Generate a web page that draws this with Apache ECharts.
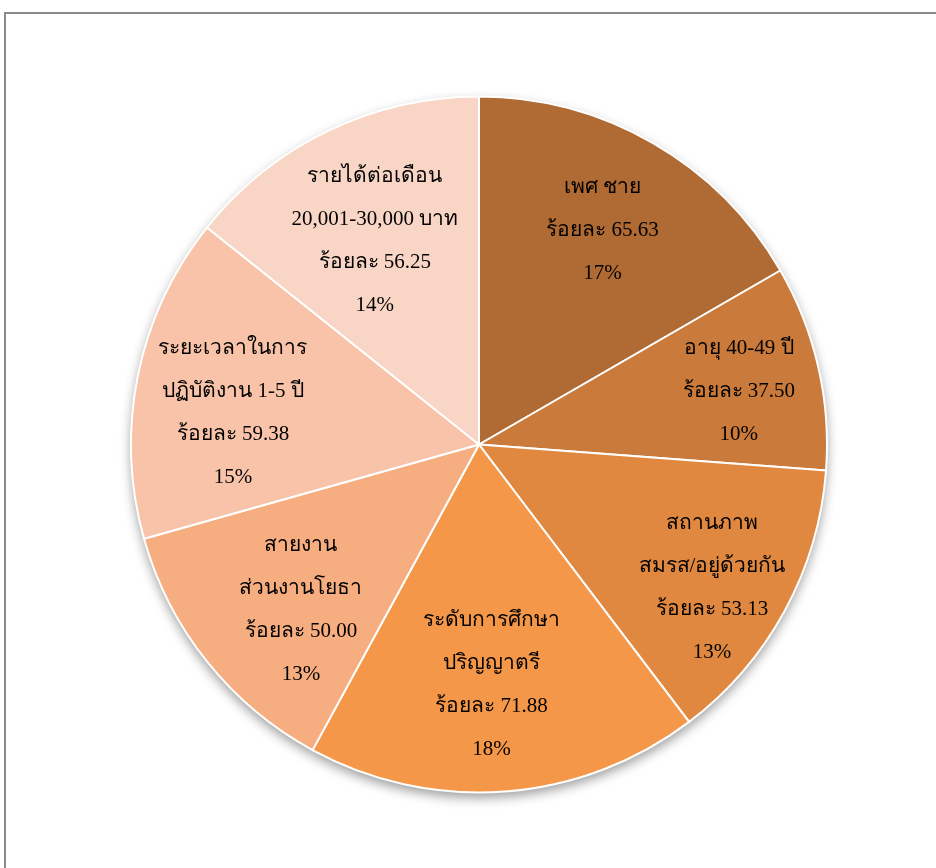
<!DOCTYPE html>
<html>
<head>
<meta charset="utf-8">
<style>
html,body{margin:0;padding:0;background:#fff;}
#c{width:936px;height:868px;}
</style>
<script src="https://cdn.jsdelivr.net/npm/echarts@6/dist/echarts.min.js"></script>
</head>
<body>
<div id="c"></div>
<script>
const categories = [
  'เพศ ชาย',
  'อายุ 40-49 ปี',
  'สถานภาพ\nสมรส/อยู่ด้วยกัน',
  'ระดับการศึกษา\nปริญญาตรี',
  'สายงาน\nส่วนงานโยธา',
  'ระยะเวลาในการ\nปฏิบัติงาน 1-5 ปี',
  'รายได้ต่อเดือน\n20,001-30,000 บาท'
];
const values = [65.63, 37.50, 53.13, 71.88, 50.00, 59.38, 56.25];
const colors = ['#B06A33', '#CA7A3A', '#E0883F', '#F59748', '#F6AD80', '#F8C3A8', '#F9D5C5'];

const chart = echarts.init(document.getElementById('c'));
const data = categories.map((n, i) => ({ name: n, value: values[i] }));
const fontFamily = "'Liberation Serif','Times New Roman',serif";
// manual label nudges (like hand-placed data labels in the original)
const labelNudge = [[0, 0], [19, 2], [16, 25], [-6, -6], [15, 11], [-4, 17], [3, 19]];

chart.setOption({
  animation: false,
  backgroundColor: '#ffffff',
  graphic: [{
    type: 'rect',
    shape: { x: 5, y: 13, width: 1200, height: 1200 },
    style: { fill: 'none', stroke: '#8a8a8a', lineWidth: 2 },
    z: -10
  }],
  series: [
    {
      // shadow layer underneath
      type: 'pie',
      center: [479, 444.5],
      radius: [0, 348],
      startAngle: 90,
      clockwise: true,
      silent: true,
      z: 1,
      label: { show: false },
      labelLine: { show: false },
      itemStyle: {
        color: '#ffffff',
        borderWidth: 0,
        shadowBlur: 12,
        shadowOffsetY: 5,
        shadowColor: 'rgba(0,0,0,0.4)'
      },
      data: data
    },
    {
      type: 'pie',
      center: [479, 444.5],
      radius: [0, 348],
      startAngle: 90,
      clockwise: true,
      z: 2,
      label: { show: false },
      labelLine: { show: false },
      itemStyle: {
        borderColor: '#ffffff',
        borderWidth: 2,
        color: p => colors[p.dataIndex]
      },
      data: data
    },
    {
      type: 'pie',
      center: [479, 444.5],
      radius: [140, 348],
      startAngle: 90,
      clockwise: true,
      percentPrecision: 0,
      silent: true,
      z: 3,
      itemStyle: { color: 'rgba(0,0,0,0)', borderWidth: 0 },
      labelLine: { show: false },
      labelLayout: p => ({ dx: labelNudge[p.dataIndex][0], dy: labelNudge[p.dataIndex][1] }),
      label: {
        show: true,
        position: 'inside',
        color: '#000',
        fontFamily: fontFamily,
        fontSize: 21,
        lineHeight: 43,
        align: 'center',
        formatter: p => p.name + '\nร้อยละ ' + p.value.toFixed(2) + '\n' + p.percent + '%'
      },
      data: data
    }
  ]
});
</script>
</body>
</html>
